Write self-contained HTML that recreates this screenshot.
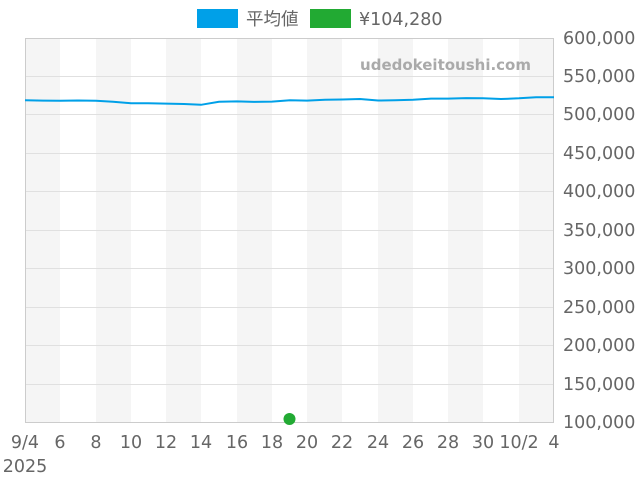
<!DOCTYPE html>
<html><head><style>body{margin:0;background:#fff}svg{display:block}text{font-family:"DejaVu Sans","Noto Sans CJK JP",sans-serif}</style></head><body>
<svg width="640" height="480" xmlns="http://www.w3.org/2000/svg">
<g fill="#f5f5f5">
<rect x="25" y="38" width="35" height="384"/><rect x="96" y="38" width="35" height="384"/><rect x="166" y="38" width="35" height="384"/><rect x="237" y="38" width="35" height="384"/><rect x="307" y="38" width="35" height="384"/><rect x="378" y="38" width="35" height="384"/><rect x="448" y="38" width="35" height="384"/><rect x="519" y="38" width="35" height="384"/>
</g>
<g stroke="#e0e0e0" stroke-width="1">
<line x1="25" x2="554" y1="76.5" y2="76.5"/><line x1="25" x2="554" y1="114.5" y2="114.5"/><line x1="25" x2="554" y1="153.5" y2="153.5"/><line x1="25" x2="554" y1="191.5" y2="191.5"/><line x1="25" x2="554" y1="230.5" y2="230.5"/><line x1="25" x2="554" y1="268.5" y2="268.5"/><line x1="25" x2="554" y1="307.5" y2="307.5"/><line x1="25" x2="554" y1="345.5" y2="345.5"/><line x1="25" x2="554" y1="384.5" y2="384.5"/>
</g>
<rect x="25.5" y="38.5" width="528" height="384" fill="none" stroke="#ccc"/>
<text x="531" y="70" text-anchor="end" font-size="15" font-weight="bold" fill="#aaa">udedokeitoushi.com</text>
<polyline fill="none" stroke="#00a0e8" stroke-width="2" points="25,100.3 43,100.6 60,100.8 78,100.5 96,100.8 113,101.8 131,103.2 148,103.2 166,103.6 184,104 201,104.8 219,101.8 237,101.4 254,101.9 272,101.6 290,100.3 307,100.6 325,99.8 342,99.5 360,99 378,100.5 395,100.3 413,99.8 431,98.6 448,98.6 466,98.1 483,98.3 501,99 519,98.3 536,97.2 554,97.2"/>
<circle cx="289.5" cy="419" r="6" fill="#22aa33"/>
<g font-size="17.5" fill="#666" text-anchor="start">
<text x="563" y="44">600,000</text><text x="563" y="82">550,000</text><text x="563" y="120">500,000</text><text x="563" y="159">450,000</text><text x="563" y="197">400,000</text><text x="563" y="236">350,000</text><text x="563" y="274">300,000</text><text x="563" y="313">250,000</text><text x="563" y="351">200,000</text><text x="563" y="390">150,000</text><text x="563" y="428">100,000</text>
</g>
<g font-size="17.5" fill="#666" text-anchor="middle">
<text x="25" y="448">9/4</text><text x="60" y="448">6</text><text x="96" y="448">8</text><text x="131" y="448">10</text><text x="166" y="448">12</text><text x="201" y="448">14</text><text x="237" y="448">16</text><text x="272" y="448">18</text><text x="307" y="448">20</text><text x="342" y="448">22</text><text x="378" y="448">24</text><text x="413" y="448">26</text><text x="448" y="448">28</text><text x="483" y="448">30</text><text x="519" y="448">10/2</text><text x="554" y="448">4</text>
<text x="25" y="472">2025</text>
</g>
<rect x="197" y="9" width="41" height="19" fill="#00a0e8"/>
<text x="246" y="25" font-size="17.5" fill="#666">平均値</text>
<rect x="310" y="9" width="41" height="19" fill="#22aa33"/>
<text x="359" y="25" font-size="17.5" fill="#666">¥104,280</text>
</svg>
</body></html>
